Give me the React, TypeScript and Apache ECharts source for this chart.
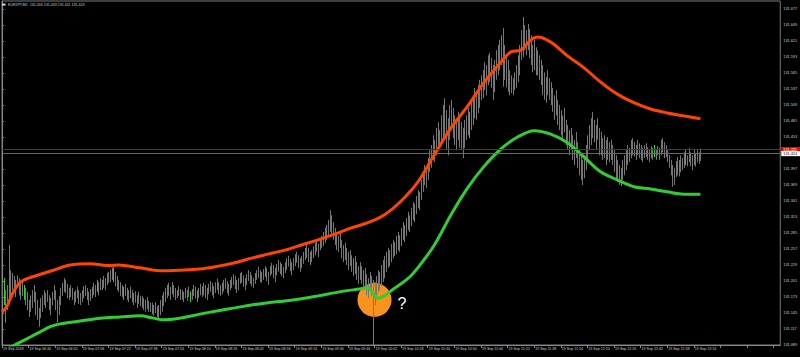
import React, { useEffect, useRef } from "react";
import * as echarts from "echarts";

// ---- chart data (prices in points = thousandths above 131.000) ----
const symbolName = "EURJPY,M1";
const lastBarOHLC = ["131.416", "131.433", "131.411", "131.424"];
const pointBase = 131.0;
const scaleBottomPts = 89; // 131.089, lowest price on the scale
const scaleTopPts = 691; // 131.691, highest price on the scale
const tickStepPts = 28;
const barsOnAxis = 468; // width of the time axis in one-minute slots

const xTickLabels = [
  "19 Sep 2018", "19 Sep 06:34", "19 Sep 06:50", "19 Sep 07:06", "19 Sep 07:22",
  "19 Sep 07:38", "19 Sep 07:54", "19 Sep 08:10", "19 Sep 08:26", "19 Sep 08:42",
  "19 Sep 08:58", "19 Sep 09:14", "19 Sep 09:30", "19 Sep 09:46", "19 Sep 10:02",
  "19 Sep 10:18", "19 Sep 10:34", "19 Sep 10:50", "19 Sep 11:06", "19 Sep 11:22",
  "19 Sep 11:38", "19 Sep 11:54", "19 Sep 12:10", "19 Sep 12:26", "19 Sep 12:42",
  "19 Sep 12:58", "19 Sep 13:14",
];

const highs = [
  199,206,185,194,264,220, 215,210,203,211,206,199, 203,194,189,182,168,176, 185,194,182,168,154,171,
  176,185,180,185,176,171, 182,194,185,168,175,189, 198,206,203,196,189,194, 189,182,185,191,185,180,
  185,192,194,189,182,187, 191,198,194,203,199,206, 203,210,206,215,217,220, 224,225,217,210,203,199,
  194,191,196,189,185,191, 185,180,183,176,182,175, 175,171,168,173,166,163, 163,159,164,157,159,168,
  176,182,189,194,198,191, 199,194,189,185,192,187, 185,182,189,185,191,183, 187,194,191,185,189,196,
  192,198,194,189,196,201, 198,192,199,205,199,194, 198,203,206,201,196,203, 208,213,210,203,206,215,
  217,211,206,213,220,217, 211,206,215,220,226,220, 217,222,227,224,217,227, 233,229,224,231,238,234,
  231,226,234,241,245,240, 234,241,248,252,246,241, 245,252,259,266,259,252, 255,262,268,273,266,273,
  280,287,294,299,308,325, 316,304,294,287,280,285, 273,264,268,259,252,255, 246,241,245,234,227,234,
  227,220,224,213,206,217, 210,203,199,210,220,217, 229,238,245,252,259,255, 266,273,269,280,287,281,
  294,304,299,311,322,316, 329,339,336,350,360,357, 378,392,404,399,416,430, 439,456,448,469,479,465,
  491,509,521,500,486,509, 518,504,491,483,497,486, 479,469,483,491,504,497, 518,526,539,532,544,553,
  561,570,584,579,596,600, 591,579,588,605,614,623, 631,644,614,596,588,570, 561,556,566,579,596,614,
  640,663,649,640,651,642, 631,614,623,610,605,596, 588,579,566,558,570,556, 549,539,526,535,518,509,
  500,491,504,483,474,465, 469,456,448,462,444,430, 421,413,421,439,456,474, 486,497,483,474,486,469,
  462,451,456,448,453,444, 448,439,430,421,413,404, 399,413,421,430,439,434, 448,451,444,439,448,442,
  439,434,439,442,435,430, 437,434,439,430,437,434, 448,451,444,439,430,421, 413,404,399,411,418,413,
  421,416,426,430,421,434, 426,421,430,425,430,426,433,
];

const lows = [
  168,159,128,150,168,176, 185,182,173,189,176,168, 175,168,159,150,138,147, 154,164,141,133,121,136,
  147,159,154,164,150,141, 159,168,150,129,141,159, 175,182,180,171,168,173, 168,159,164,171,161,159,
  164,171,175,168,159,166, 171,176,173,182,176,185, 185,189,185,194,198,199, 203,199,192,185,182,175,
  173,168,175,168,164,171, 164,159,163,154,161,157, 154,150,147,152,147,147, 143,140,145,138,136,141,
  147,157,164,171,175,168, 178,173,168,171,175,168, 168,164,171,166,173,164, 168,175,170,164,171,176,
  173,176,171,168,178,182, 176,171,180,185,178,175, 178,183,187,180,175,185, 189,194,187,180,185,196,
  198,191,185,194,201,196, 192,189,196,203,206,199, 198,203,208,201,194,210, 213,206,199,211,217,213,
  210,206,215,220,226,218, 211,220,227,233,224,217, 224,231,238,241,234,229, 234,241,246,252,243,255,
  259,262,268,273,280,287, 281,273,264,255,252,259, 241,234,238,229,220,227, 217,210,213,203,196,203,
  196,185,189,176,171,182, 175,89,159,171,182,185, 192,199,206,217,224,227, 234,241,245,248,255,252,
  262,273,269,280,290,287, 297,308,304,318,329,325, 343,357,369,364,378,392, 399,413,409,421,434,430,
  439,448,456,430,421,448, 465,451,439,430,448,434, 430,416,434,448,456,451, 465,474,486,483,495,504,
  518,521,535,526,544,549, 539,518,532,553,561,570, 579,541,553,540,532,526, 530,526,535,539,549,561,
  588,593,605,596,605,591, 579,566,570,561,561,553, 544,526,518,513,526,518, 509,497,483,491,474,465,
  456,448,461,439,430,421, 430,413,404,416,399,386, 378,369,381,395,413,430, 439,451,444,430,448,421,
  421,413,416,404,413,409, 413,404,392,381,374,369, 367,378,386,395,404,409, 416,421,419,413,421,416,
  413,409,416,418,413,409, 416,413,418,413,421,413, 421,426,416,418,409,399, 386,366,369,383,386,384,
  391,395,399,404,402,409, 402,395,404,401,409,406,411,
];

const dojiBars = [1, 13, 57, 67, 73, 113, 281, 392, 411];

// [bar index, points]
const upperBand = [
  [0,147],[3,157],[6,177],[9,192],[12,201],[18,208],[30,219],[41,229],[53,231],[65,228],[70,229],
  [83,224],[95,219],[107,220],[119,222],[130,227],[140,233],[150,241],[160,248],[170,255],[180,264],
  [190,273],[200,283],[210,294],[220,303],[230,317],[240,341],[250,374],[260,422],[270,469],[280,507],
  [290,549],[300,584],[306,602],[312,605],[318,623],[322,628],[330,619],[340,595],[350,574],[360,549],
  [370,528],[380,513],[390,502],[400,495],[410,490],[420,485],
];
const lowerBand = [
  [0,77],[11,94],[17,103],[23,112],[29,121],[35,126],[47,131],[59,136],[71,138],[83,140],[91,136],
  [97,133],[107,136],[119,143],[130,149],[140,154],[150,159],[160,163],[170,166],[180,170],[190,175],
  [203,182],[215,187],[220,189],[223,180],[226,171],[230,175],[234,184],[244,205],[250,224],[260,264],
  [270,317],[280,364],[290,402],[300,432],[310,453],[320,464],[330,458],[340,443],[350,418],[360,392],
  [370,378],[380,366],[390,362],[400,357],[410,353],[420,353],
];

const redLinePts = 431; // 131.431
const bidLinePts = 424; // 131.424
const questionMark = [224, 168]; // orange marker: bar index, points

const FONT = "Liberation Sans";

export default function App() {
  const ref = useRef<HTMLDivElement>(null);

  useEffect(() => {
    if (!ref.current) return;
    const chart = echarts.init(ref.current, undefined, { renderer: "svg" });
    const sh = (p: number) => p - scaleBottomPts;
    const fmtPrice = (p: number) => (pointBase + p / 1000).toFixed(3);

    const barData = highs.map((h, i) => [i, sh(lows[i]), sh(h), dojiBars.includes(i) ? 1 : 0]);

    const priceLine = (pts: number, lineColor: string, boxColor: string, textColor: string) => ({
      silent: true,
      symbol: ["none", "none"],
      precision: 3,
      lineStyle: { color: lineColor, width: 1, type: "solid", opacity: 1 },
      emphasis: { disabled: true },
      label: {
        show: true,
        position: "end",
        distance: 1,
        formatter: fmtPrice(pts),
        color: textColor,
        backgroundColor: boxColor,
        padding: [0.6, 3, 0.6, 2],
        fontSize: 3.8,
        fontFamily: FONT,
      },
      data: [{ yAxis: sh(pts) }],
    });

    chart.setOption({
      animation: false,
      backgroundColor: "#000000",
      grid: { left: 1, right: 19, top: 1, bottom: 12, show: true, borderColor: "#7a7a7a", borderWidth: 1 },
      xAxis: {
        type: "value",
        min: 0,
        max: barsOnAxis,
        interval: 16,
        axisLine: { show: true, lineStyle: { color: "#8a8a8a", width: 1 } },
        axisTick: { show: true, length: 3, lineStyle: { color: "#8a8a8a" } },
        splitLine: { show: false },
        axisLabel: {
          show: true,
          align: "left",
          margin: 2,
          fontSize: 3.6,
          fontFamily: FONT,
          color: "#cfcfcf",
          padding: [0, 0, 0, 1],
          showMaxLabel: false,
          formatter: (v: number) => {
            const k = Math.round(v / 16);
            return Math.abs(v - k * 16) < 1e-6 && k < xTickLabels.length ? xTickLabels[k] : "";
          },
        },
      },
      yAxis: {
        type: "value",
        position: "right",
        min: 0,
        max: scaleTopPts - scaleBottomPts,
        interval: tickStepPts,
        axisLine: { show: true, lineStyle: { color: "#8a8a8a", width: 1 } },
        axisTick: { show: true, length: 2, lineStyle: { color: "#8a8a8a" } },
        splitLine: { show: false },
        axisLabel: {
          show: true,
          margin: 3,
          fontSize: 3.8,
          fontFamily: FONT,
          color: "#cfcfcf",
          showMaxLabel: false,
          formatter: (v: number) => {
            const k = Math.round(v / tickStepPts);
            return Math.abs(v - k * tickStepPts) < 1e-6 ? fmtPrice(scaleBottomPts + v) : "";
          },
        },
      },
      graphic: [
        { type: "rect", left: 2, top: 3.6, shape: { width: 3.5, height: 2 }, style: { fill: "#d8d8d8" }, z: 100 },
        {
          type: "text",
          left: 8,
          top: 2.6,
          style: { text: `${symbolName}  ${lastBarOHLC.join(" ")}`, fill: "#cfcfcf", fontSize: 3.6, fontFamily: FONT },
          z: 100,
        },
      ],
      series: [
        {
          type: "scatter",
          z: 1,
          data: [[questionMark[0], sh(questionMark[1])]],
          symbol: "circle",
          symbolSize: 34,
          itemStyle: { color: "#f7941d", opacity: 1 },
          label: {
            show: true,
            formatter: "?",
            position: "right",
            distance: 6,
            offset: [0, 4],
            color: "#ffffff",
            fontSize: 16,
            fontFamily: FONT,
          },
          silent: true,
        },
        {
          type: "custom",
          z: 2,
          clip: true,
          data: barData,
          encode: { x: 0, y: [1, 2] },
          renderItem: (params: any, api: any) => {
            const i = api.value(0);
            const lo = api.coord([i, api.value(1)]);
            const hi = api.coord([i, api.value(2)]);
            const doji = api.value(3) === 1;
            const x = Math.round(lo[0]) + 0.5;
            return {
              type: "line",
              shape: { x1: x, y1: lo[1], x2: x, y2: hi[1] },
              style: { stroke: doji ? "#2fcf2f" : "#767676", lineWidth: 1 },
            };
          },
          silent: true,
        },
        {
          type: "line",
          z: 3,
          data: upperBand.map(([i, p]) => [i, sh(p)]),
          smooth: 0.35,
          showSymbol: false,
          symbol: "none",
          clip: true,
          lineStyle: { color: "#ff4500", width: 3 },
          silent: true,
          markLine: priceLine(redLinePts, "#c80000", "#ff0000", "#ffffff"),
        },
        {
          type: "line",
          z: 3,
          data: lowerBand.map(([i, p]) => [i, sh(p)]),
          smooth: 0.35,
          showSymbol: false,
          symbol: "none",
          clip: true,
          lineStyle: { color: "#32cd32", width: 3 },
          silent: true,
          markLine: priceLine(bidLinePts, "#5f6a74", "#ffffff", "#000000"),
        },
      ],
    });

    return () => chart.dispose();
  }, []);

  return (
    <div style={{ position: "fixed", left: 0, top: 0, width: 800, height: 357, background: "#000" }}>
      <div ref={ref} style={{ width: 800, height: 357 }} />
    </div>
  );
}
